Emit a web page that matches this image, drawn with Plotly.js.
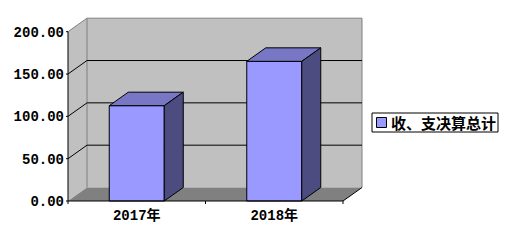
<!DOCTYPE html>
<html><head><meta charset="utf-8">
<script src="https://cdn.plot.ly/plotly-3.0.1.min.js"></script>
<style>html,body{margin:0;padding:0;background:#fff}#c{width:510px;height:245px}</style>
</head><body><div id="c"></div>
<script>
// ---- data ----
const categories = ['2017年', '2018年'];
const values = [112.6, 165.0];
const seriesName = '收、支决算总计';
const yTicks = [0, 50, 100, 150, 200];
const yTickText = yTicks.map(v => v.toFixed(2));

// ---- geometry (pixels) ----
const W = 510, H = 245;
const L = 68, FR = 343, B = 201, YTOP = 31.7, DX = 19, DY = 13.5;
const L0 = 64, R0 = FR + DX + 3, T0 = 15, B0 = 205;
const yMax = yTicks[yTicks.length - 1];
const pxX = (FR - L) / categories.length;
const pxY = (B - YTOP) / yMax;
const dx = DX / pxX, dy = DY / pxY;
const x0 = -0.5, x1 = categories.length - 0.5;
const xRange = [x0 - (L - L0) / pxX, x0 + (R0 - L) / pxX];
const yRange = [-(B0 - B) / pxY, (B - T0) / pxY];
const bw = 0.4;
const xs = categories.map((c, i) => i);
const paperX = p => (p - L0) / (R0 - L0);
const paperY = p => (B0 - p) / (B0 - T0);

const frontColor = '#9999FF', topColor = '#7777C6', sideColor = '#4C4C80';
const wallColor = '#C0C0C0', floorColor = '#808080', edgeGray = '#808080';

const traces = [];
traces.push({type: 'bar', x: xs, y: values, width: bw, name: seriesName,
  marker: {color: frontColor, line: {color: '#000', width: 1}}, hoverinfo: 'skip', showlegend: false});
values.forEach((v, i) => {
  const a = i - bw / 2, b = i + bw / 2;
  traces.push({type: 'scatter', mode: 'lines', x: [a, b, b + dx, a + dx, a], y: [v, v, v + dy, v + dy, v],
    fill: 'toself', fillcolor: topColor, line: {color: '#000', width: 1}, showlegend: false, hoverinfo: 'skip'});
  traces.push({type: 'scatter', mode: 'lines', x: [b, b + dx, b + dx, b, b], y: [0, dy, v + dy, v, 0],
    fill: 'toself', fillcolor: sideColor, line: {color: '#000', width: 1}, showlegend: false, hoverinfo: 'skip'});
});

const poly = pts => 'M' + pts.map(p => p[0] + ',' + p[1]).join('L') + 'Z';
const line = (xa, ya, xb, yb, color, layer) => ({type: 'line', xref: 'x', yref: 'y', x0: xa, y0: ya, x1: xb, y1: yb,
  line: {color: color, width: 1}, layer: layer || 'below'});
const shapes = [];
// back wall
shapes.push({type: 'path', xref: 'x', yref: 'y', layer: 'below', path: poly([[x0 + dx, dy], [x1 + dx, dy], [x1 + dx, yMax + dy], [x0 + dx, yMax + dy]]),
  fillcolor: wallColor, line: {width: 0}});
// left wall
shapes.push({type: 'path', xref: 'x', yref: 'y', layer: 'below', path: poly([[x0, 0], [x0, yMax], [x0 + dx, yMax + dy], [x0 + dx, dy]]),
  fillcolor: wallColor, line: {width: 0}});
// floor
shapes.push({type: 'path', xref: 'x', yref: 'y', layer: 'below', path: poly([[x0, 0], [x1, 0], [x1 + dx, dy], [x0 + dx, dy]]),
  fillcolor: floorColor, line: {width: 0}});
// gray edges
shapes.push(line(x0 + dx, yMax + dy, x1 + dx, yMax + dy, edgeGray));
shapes.push(line(x1 + dx, dy, x1 + dx, yMax + dy, edgeGray));
shapes.push(line(x0 + dx, dy, x0 + dx, yMax + dy, edgeGray));
shapes.push(line(x0, yMax, x0 + dx, yMax + dy, edgeGray));
// gridlines
yTicks.slice(1, -1).forEach(v => {
  shapes.push(line(x0 + dx, v + dy, x1 + dx, v + dy, '#000'));
  shapes.push(line(x0, v, x0 + dx, v + dy, '#000'));
});
// floor right diagonal
shapes.push(line(x1, 0, x1 + dx, dy, '#000'));
// axes
shapes.push(line(x0, 0, x0, yMax, '#000', 'above'));
shapes.push(line(x0, 0, x1, 0, '#000', 'above'));
// y ticks
yTicks.forEach(v => shapes.push(line(x0 - 2 / pxX, v, x0, v, '#000', 'above')));
// x boundary ticks
for (let k = 0; k <= categories.length; k++) shapes.push(line(x0 + k, 0, x0 + k, -3 / pxY, '#000', 'above'));

// legend (drawn)
shapes.push({type: 'rect', xref: 'paper', yref: 'paper', x0: paperX(372), x1: paperX(498), y0: paperY(132), y1: paperY(113),
  fillcolor: '#fff', line: {color: '#000', width: 1}});
shapes.push({type: 'rect', xref: 'paper', yref: 'paper', x0: paperX(376.5), x1: paperX(386.5), y0: paperY(127.5), y1: paperY(117.5),
  fillcolor: frontColor, line: {color: '#000', width: 1}});
const annotations = [{xref: 'paper', yref: 'paper', x: paperX(389), y: paperY(122.5), xanchor: 'left', yanchor: 'middle',
  text: seriesName, showarrow: false, font: {family: 'Noto Sans CJK SC', size: 15, weight: 'bold', color: '#000'}}];

const layout = {
  width: W, height: H, margin: {l: L0, r: W - R0, t: T0, b: H - B0, pad: 0},
  paper_bgcolor: '#fff', plot_bgcolor: 'rgba(0,0,0,0)', showlegend: false,
  xaxis: {range: xRange, tickvals: xs, ticktext: categories, showgrid: false, zeroline: false, showline: false, ticks: '',
    tickfont: {family: 'Liberation Mono, Noto Sans CJK SC', size: 14, weight: 'bold', color: '#000'}, fixedrange: true},
  yaxis: {range: yRange, tickvals: yTicks, ticktext: yTickText, showgrid: false, zeroline: false, showline: false, ticks: '',
    ticklabelstandoff: -1,
    tickfont: {family: 'Liberation Mono', size: 14, weight: 'bold', color: '#000'}, fixedrange: true},
  shapes: shapes, annotations: annotations
};
Plotly.newPlot('c', traces, layout, {staticPlot: true, displayModeBar: false});
</script></body></html>
